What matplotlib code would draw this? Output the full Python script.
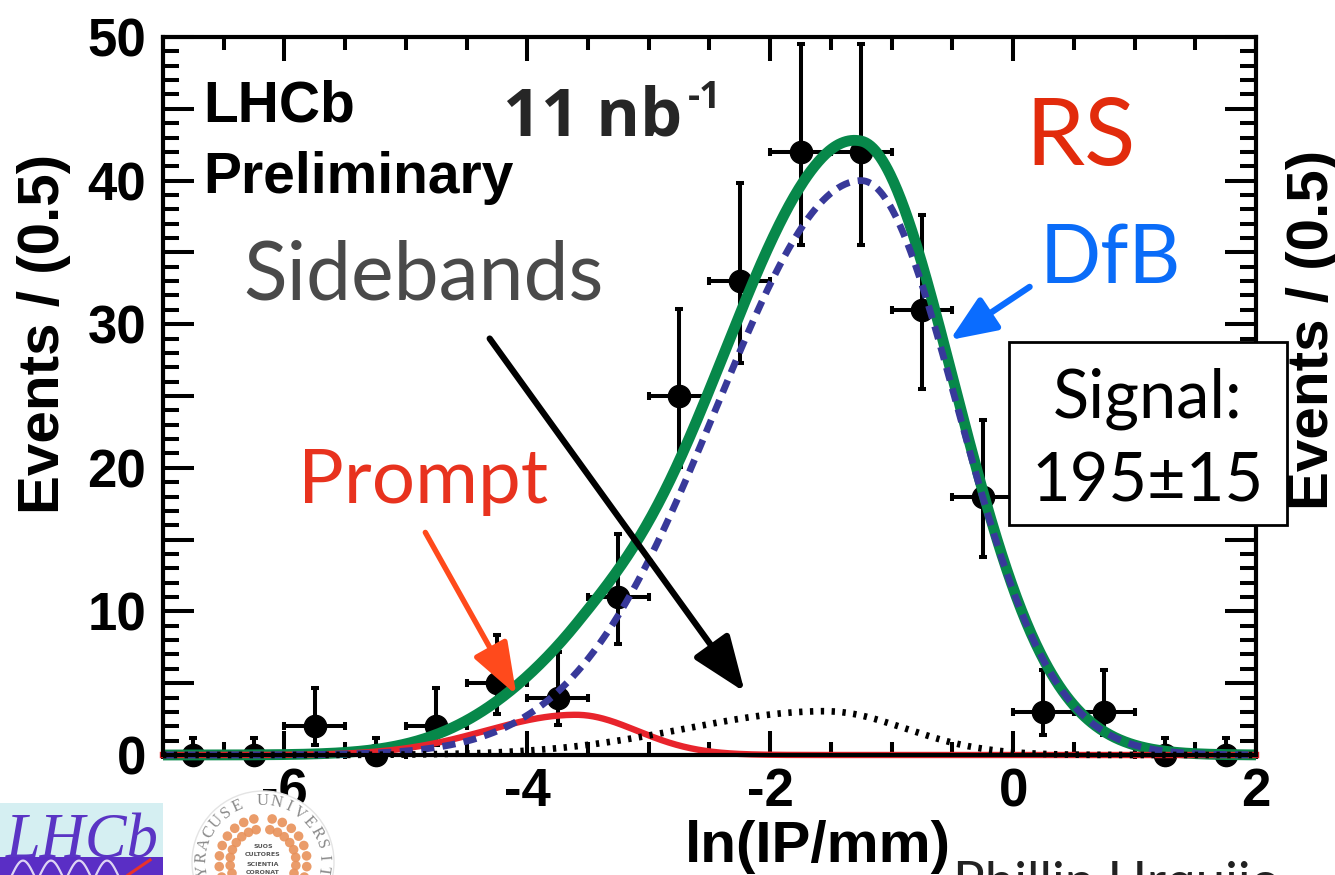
import numpy as np
import matplotlib
matplotlib.use("Agg")
import matplotlib.pyplot as plt
from matplotlib.patches import Rectangle, Circle
from matplotlib.ticker import FixedLocator, MultipleLocator, FuncFormatter

plt.rcParams['axes.unicode_minus'] = False
plt.rcParams['lines.scale_dashes'] = False

# ---- binned data: ln(IP/mm), bins of width 0.5 ----
bin_centers = [-6.75, -6.25, -5.75, -5.25, -4.75, -4.25, -3.75, -3.25, -2.75,
               -2.25, -1.75, -1.25, -0.75, -0.25, 0.25, 0.75, 1.25, 1.75]
counts = [0, 0, 2, 0, 2, 5, 4, 11, 25, 33, 42, 42, 31, 18, 3, 3, 0, 0]
err_low = [0, 0, 1.29, 0, 1.29, 2.16, 1.91, 3.26, 4.97, 5.72, 6.46, 6.46,
           5.54, 4.22, 1.63, 1.63, 0, 0]
err_high = [1.15, 1.15, 2.64, 1.15, 2.64, 3.38, 3.16, 4.40, 6.06, 6.80, 7.53,
            7.53, 6.62, 5.30, 2.92, 2.92, 1.15, 1.15]
bin_half_width = 0.25

# ---- fit components: bifurcated Gaussians (amplitude, mean, sigma_left, sigma_right)
dfb_params = (40.0, -1.25, 1.19, 0.79)
prompt_params = (2.8, -3.6, 0.74, 0.50)
sideband_params = (3.05, -1.55, 1.14, 0.66)

x_range = (-7.0, 2.0)
y_range = (0.0, 50.0)
x_labels = [-6, -4, -2, 0, 2]
signal_text = "Signal:\n195\u00b115"
lumi_text = "11 nb"
lumi_exp = "-1"


def bifurcated_gauss(x, amp, mean, sig_l, sig_r):
    s = np.where(x < mean, sig_l, sig_r)
    return amp * np.exp(-0.5 * ((x - mean) / s) ** 2)


W, H = 1335, 875
fig = plt.figure(figsize=(W / 100, H / 100), dpi=100)
fig.patch.set_facecolor('white')


def px(x0, y0, x1, y1):
    return [x0 / W, 1 - y1 / H, (x1 - x0) / W, (y1 - y0) / H]


ax = fig.add_axes(px(163, 37, 1256, 755))
ax.set_xlim(*x_range)
ax.set_ylim(*y_range)

# data points with asymmetric Poisson errors
ax.errorbar(bin_centers, counts, yerr=[err_low, err_high], xerr=bin_half_width,
            fmt='o', color='black', ms=16, elinewidth=2.9, capsize=3.2,
            capthick=2.9, zorder=2, clip_on=False)

xs = np.linspace(x_range[0], x_range[1], 900)
dfb = bifurcated_gauss(xs, *dfb_params)
prompt = bifurcated_gauss(xs, *prompt_params)
side = bifurcated_gauss(xs, *sideband_params)
total = dfb + prompt + side

ax.plot(xs, total, color='#07884a', lw=7.8, zorder=3, clip_on=False,
        solid_capstyle='butt')
ax.plot(xs, prompt, color='#e8242c', lw=4.6, zorder=4, clip_on=False)
ax.plot(xs, dfb, color='#38399a', lw=4.9, ls=(0, (9.5, 6.0)), zorder=5,
        clip_on=False)
ax.plot(xs, side, color='black', lw=4.8, ls=(0, (2.4, 5.4)), zorder=6,
        clip_on=False)

# ticks
ax.xaxis.set_major_locator(FixedLocator(x_labels))
ax.xaxis.set_minor_locator(MultipleLocator(0.5))
ax.yaxis.set_major_locator(MultipleLocator(5))
ax.yaxis.set_minor_locator(MultipleLocator(1))
ax.yaxis.set_major_formatter(FuncFormatter(
    lambda v, p: f"{int(round(v))}" if int(round(v)) % 10 == 0 else ""))
ax.xaxis.set_major_formatter(FuncFormatter(lambda v, p: f"{int(round(v))}"))
ax.tick_params(which='both', direction='in', top=True, right=True,
               labeltop=False, labelright=False, width=2.9, color='black')
ax.tick_params(axis='y', which='major', length=22.3, pad=12)
ax.tick_params(axis='y', which='minor', length=11.5)
ax.tick_params(axis='x', which='major', length=17.3, pad=9)
ax.tick_params(axis='x', which='minor', length=9.4)
for lab in ax.get_xticklabels() + ax.get_yticklabels():
    lab.set_fontfamily('Liberation Sans')
    lab.set_fontweight('bold')
    lab.set_fontsize(38)
for sp in ax.spines.values():
    sp.set_linewidth(3.0)
    sp.set_zorder(7)

# arrows pointing at the components
ax.annotate('', xy=(-2.21, 4.39), xytext=(-4.31, 29.0),
            arrowprops=dict(arrowstyle='-|>,head_length=1.7,head_width=0.66',
                            color='black', lw=4.5, mutation_scale=20,
                            shrinkA=0, shrinkB=0), zorder=8)
ax.annotate('', xy=(-4.09, 4.18), xytext=(-4.84, 15.5),
            arrowprops=dict(arrowstyle='-|>,head_length=1.6,head_width=0.58',
                            color='#ff4a1c', lw=3.9, mutation_scale=20,
                            shrinkA=0, shrinkB=0), zorder=8)
ax.annotate('', xy=(-0.52, 28.9), xytext=(0.136, 32.6),
            arrowprops=dict(arrowstyle='-|>,head_length=1.4,head_width=0.58',
                            color='#0a6cff', lw=4.5, mutation_scale=20,
                            shrinkA=0, shrinkB=0), zorder=8)

# ---- overlay in pixel coordinates for labels, texts and logos ----
ov = fig.add_axes([0, 0, 1, 1], zorder=10)
ov.set_xlim(0, W)
ov.set_ylim(H, 0)
ov.axis('off')
ov.patch.set_alpha(0)

bold = dict(family='Liberation Sans', weight='bold', color='black')
optima = dict(family='Lato')

ov.text(44, 334, 'Events / (0.5)', rotation=90, ha='center', va='center',
        fontsize=42, **bold)
ov.text(1313, 330, 'Events / (0.5)', rotation=90, ha='center', va='center',
        fontsize=42, **bold)
ov.text(818, 862, 'ln(IP/mm)', ha='center', va='baseline', fontsize=42, **bold)

ov.text(203, 121, 'LHCb', ha='left', va='baseline', fontsize=41, **bold)
ov.text(203, 193, 'Preliminary', ha='left', va='baseline', fontsize=41, **bold)

ov.text(503, 135, lumi_text, ha='left', va='baseline', fontsize=48,
        family='Open Sans', weight='bold', color='#262626')
ov.text(688, 108, lumi_exp, ha='left', va='baseline', fontsize=27,
        family='Open Sans', weight='bold', color='#262626')

ov.text(1025, 165, 'RS', ha='left', va='baseline', fontsize=68,
        color='#e22b0c', **optima)
ov.text(1040, 283, 'DfB', ha='left', va='baseline', fontsize=58,
        color='#0a6cf8', **optima)
ov.text(243, 300, 'Sidebands', ha='left', va='baseline', fontsize=58,
        color='#4a4a4a', **optima)
ov.text(298, 503, 'Prompt', ha='left', va='baseline', fontsize=55,
        color='#e8321e', **optima)

ov.add_patch(Rectangle((1009, 342), 278, 183, facecolor='white',
                       edgecolor='black', lw=2.0, zorder=3))
ov.text(1148, 418, signal_text.split('\n')[0], ha='center', va='baseline',
        fontsize=48, color='black', zorder=4, **optima)
ov.text(1148, 502, signal_text.split('\n')[1], ha='center', va='baseline',
        fontsize=48, color='black', zorder=4, **optima)

ov.text(953, 898, 'Phillip Urquijo', ha='left', va='baseline', fontsize=38,
        color='#222222', **optima)

# LHCb logo
ov.add_patch(Rectangle((0, 803), 163, 72, facecolor='#d5eff2', lw=0))
ov.add_patch(Rectangle((0, 857), 163, 18, facecolor='#5a2ec5', lw=0))
for x0 in (12, 40, 68, 96):
    t = np.linspace(0, 1, 30)
    ov.plot(x0 + 22 * t, 875 - 16 * np.sin(np.pi * t) * 0.9, color='white',
            lw=1.6, alpha=0.8)
ov.plot([128, 150], [875, 860], color='#e8322a', lw=2.2)
ov.text(6, 858, 'LHCb', ha='left', va='baseline', fontsize=45,
        family='Liberation Serif', style='italic', color='#5a34c4')

# Syracuse University seal
cx, cy = 263, 862
ov.add_patch(Circle((cx, cy), 71, facecolor='white', edgecolor='#e4e4e4',
                    lw=1))
seal = "SYRACUSE UNIVERSITY"
angles = np.linspace(200, -20, len(seal))
for ch, a in zip(seal, angles):
    r = 61
    ov.text(cx + r * np.cos(np.radians(a)), cy - r * np.sin(np.radians(a)), ch,
            rotation=a - 90, ha='center', va='center', fontsize=12,
            family='Liberation Serif', color='#8a8a8a', rotation_mode='anchor')
for side_sign in (-1, 1):
    for k, a in enumerate(np.linspace(102, 200, 8)):
        ang = a if side_sign < 0 else 180 - a
        for r in (44, 33):
            ov.add_patch(Circle((cx + r * np.cos(np.radians(ang)),
                                 cy - r * np.sin(np.radians(ang))), 4.8,
                                facecolor='#e8915a', lw=0, alpha=0.9))
for i, word in enumerate(['SUOS', 'CULTORES', 'SCIENTIA', 'CORONAT']):
    ov.text(cx, 846 + 9 * i, word, ha='center', va='center', fontsize=4.5,
            color='#555555', weight='bold')

fig.savefig('out.png', dpi=100)
